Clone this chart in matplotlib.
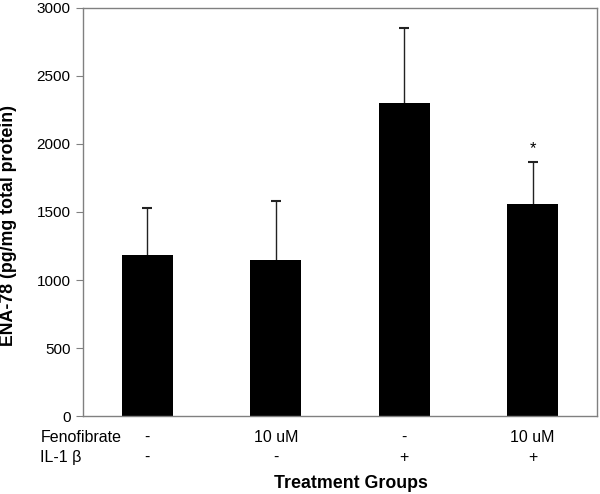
import numpy as np
import matplotlib.pyplot as plt

plt.rcParams['font.family'] = ['Liberation Sans', 'DejaVu Sans']

# données
groups = ['G1', 'G2', 'G3', 'G4']
means = [1185, 1150, 2300, 1560]
err_up = [345, 430, 555, 310]
fenofibrate = ['-', '10 uM', '-', '10 uM']
il1b = ['-', '-', '+', '+']
signif = ['', '', '', '*']

fig = plt.figure(figsize=(6, 4.94), dpi=100)
ax = fig.add_axes([83/600, 1 - 416/494, 514/600, 408/494])

x = np.arange(len(groups))
ax.bar(x, means, width=0.4, color='black', zorder=2)
eb = ax.errorbar(x, means, yerr=[np.zeros(len(means)), err_up], fmt='none',
                 ecolor='#222222', elinewidth=1, capsize=3.5, capthick=1.5, zorder=1)
# pas de barre basse
eb[1][0].set_visible(False)

for xi, m, e, s in zip(x, means, err_up, signif):
    if s:
        ax.text(xi, m + e + 40, s, ha='center', va='bottom', fontsize=12)

ax.set_xlim(-0.5, 3.5)
ax.set_ylim(0, 3000)
ax.set_yticks(range(0, 3001, 500))
ax.set_xticks([])
ax.tick_params(axis='y', labelsize=11, length=5, color='#808080', pad=4)
for sp in ax.spines.values():
    sp.set_color('#808080')
    sp.set_linewidth(1)

ax.set_ylabel('ENA-78 (pg/mg total protein)', fontsize=12.8, fontweight='bold')
ax.yaxis.set_label_coords(-0.128, 0.468)

# étiquettes des groupes sous l'axe
ax.text(-0.083, -0.052, 'Fenofibrate', transform=ax.transAxes, ha='left', va='center', fontsize=11.5)
ax.text(-0.083, -0.101, 'IL-1 β', transform=ax.transAxes, ha='left', va='center', fontsize=11.5)
for xi, f, il in zip(x, fenofibrate, il1b):
    ax.text(xi, -155, f, ha='center', va='center', fontsize=11.5)
    ax.text(xi, -303, il, ha='center', va='center', fontsize=11.5)

fig.text(351/600, 1 - 483/494, 'Treatment Groups', ha='center', va='center',
         fontsize=12.8, fontweight='bold')

plt.savefig('out.png', dpi=100)
